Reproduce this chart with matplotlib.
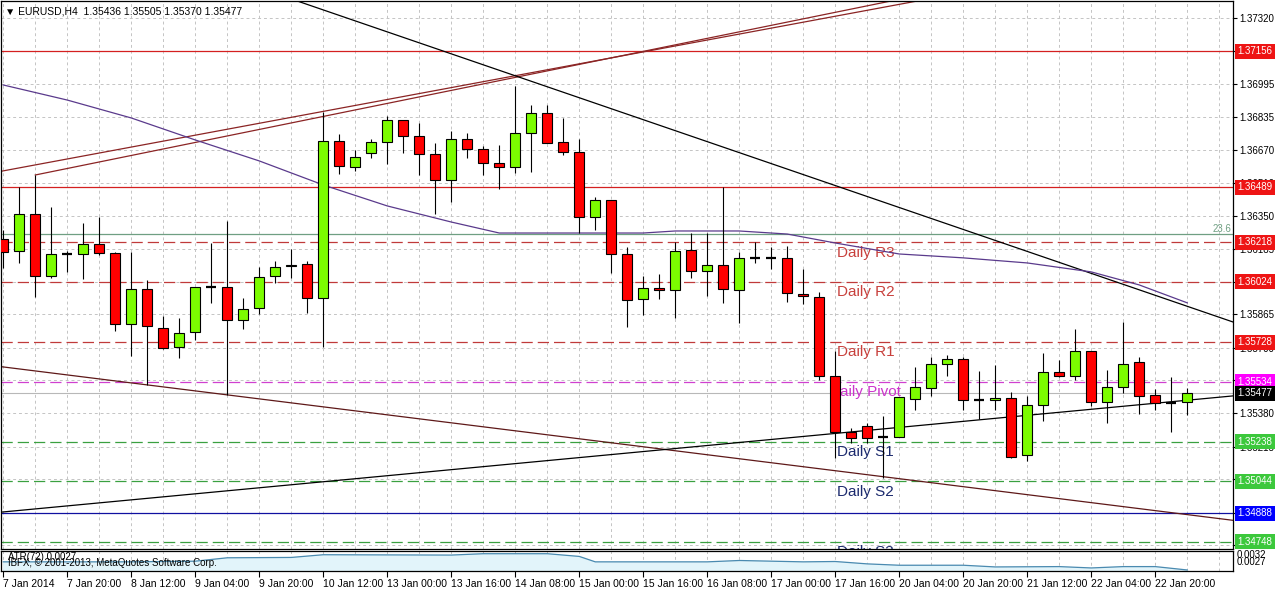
"""EURUSD H4 candlestick chart with daily pivots, trendlines and ATR panel (MT4 style)."""

import matplotlib

matplotlib.use("Agg")
import matplotlib.pyplot as plt
import numpy as np
from matplotlib.transforms import blended_transform_factory

W, H = 1276, 589
plt.rcParams["font.family"] = ["Liberation Sans", "DejaVu Sans"]

# --- price data (H4 bars, 7 Jan 2014 .. 22 Jan 2014) ---
opens = [1.36235, 1.36176, 1.36356, 1.36052, 1.36163, 1.36160, 1.36210, 1.36165, 1.35816, 1.35988,
         1.35796, 1.35703, 1.35777, 1.35998, 1.36001, 1.35836, 1.35895, 1.36052, 1.36101, 1.36111,
         1.35944, 1.36716, 1.36590, 1.36656, 1.36710, 1.36818, 1.36739, 1.36651, 1.36525, 1.36724,
         1.36675, 1.36607, 1.36587, 1.36754, 1.36852, 1.36710, 1.36661, 1.36341, 1.36425, 1.36160,
         1.35939, 1.35993, 1.35983, 1.36179, 1.36076, 1.36106, 1.35983, 1.36143, 1.36143, 1.36140,
         1.35965, 1.35949, 1.35562, 1.35289, 1.35317, 1.35264, 1.35261, 1.35451, 1.35505, 1.35620,
         1.35644, 1.35444, 1.35442, 1.35453, 1.35173, 1.35418, 1.35582, 1.35561, 1.35684, 1.35433,
         1.35507, 1.35629, 1.35467, 1.35431, 1.35436]
highs = [1.36279, 1.36492, 1.36549, 1.36391, 1.36176, 1.36315, 1.36341, 1.36170, 1.36173, 1.36034,
         1.35857, 1.35847, 1.36000, 1.36214, 1.36325, 1.35944, 1.36099, 1.36128, 1.36186, 1.36128,
         1.36860, 1.36750, 1.36672, 1.36726, 1.36839, 1.36821, 1.36806, 1.36706, 1.36767, 1.36754,
         1.36692, 1.36695, 1.36986, 1.36894, 1.36891, 1.36830, 1.36726, 1.36440, 1.36427, 1.36193,
         1.36053, 1.36063, 1.36220, 1.36266, 1.36266, 1.36489, 1.36171, 1.36220, 1.36194, 1.36201,
         1.36086, 1.35975, 1.35686, 1.35305, 1.35333, 1.35366, 1.35459, 1.35605, 1.35654, 1.35665,
         1.35654, 1.35588, 1.35616, 1.35485, 1.35464, 1.35674, 1.35641, 1.35792, 1.35686, 1.35592,
         1.35829, 1.35654, 1.35497, 1.35556, 1.35505]
lows = [1.36093, 1.36116, 1.35952, 1.36042, 1.36074, 1.36037, 1.36155, 1.35785, 1.35662, 1.35518,
        1.35693, 1.35652, 1.35739, 1.35919, 1.35469, 1.35792, 1.35865, 1.36017, 1.36042, 1.35873,
        1.35706, 1.36553, 1.36570, 1.36634, 1.36603, 1.36656, 1.36551, 1.36358, 1.36417, 1.36634,
        1.36551, 1.36479, 1.36558, 1.36565, 1.36705, 1.36647, 1.36263, 1.36279, 1.36068, 1.35801,
        1.35863, 1.35939, 1.35846, 1.36045, 1.35957, 1.35919, 1.35821, 1.36116, 1.36086, 1.35924,
        1.35914, 1.35543, 1.35158, 1.35235, 1.35235, 1.35060, 1.35261, 1.35395, 1.35464, 1.35562,
        1.35395, 1.35351, 1.35395, 1.35158, 1.35145, 1.35343, 1.35556, 1.35543, 1.35415, 1.35333,
        1.35480, 1.35376, 1.35395, 1.35289, 1.35370]
closes = [1.36171, 1.36356, 1.36052, 1.36160, 1.36163, 1.36210, 1.36165, 1.35816, 1.35988, 1.35806,
          1.35701, 1.35775, 1.35998, 1.35998, 1.35836, 1.35890, 1.36050, 1.36099, 1.36109, 1.35944,
          1.36716, 1.36595, 1.36636, 1.36710, 1.36818, 1.36739, 1.36651, 1.36525, 1.36724, 1.36675,
          1.36607, 1.36587, 1.36754, 1.36852, 1.36708, 1.36661, 1.36341, 1.36425, 1.36160, 1.35935,
          1.35993, 1.35983, 1.36175, 1.36076, 1.36106, 1.35988, 1.36140, 1.36143, 1.36143, 1.35968,
          1.35955, 1.35562, 1.35289, 1.35256, 1.35256, 1.35264, 1.35458, 1.35507, 1.35621, 1.35644,
          1.35444, 1.35444, 1.35454, 1.35163, 1.35418, 1.35582, 1.35561, 1.35684, 1.35433, 1.35507,
          1.35620, 1.35464, 1.35428, 1.35431, 1.35477]

time_labels = ["7 Jan 2014", "7 Jan 20:00", "8 Jan 12:00", "9 Jan 04:00", "9 Jan 20:00",
               "10 Jan 12:00", "13 Jan 00:00", "13 Jan 16:00", "14 Jan 08:00", "15 Jan 00:00",
               "15 Jan 16:00", "16 Jan 08:00", "17 Jan 00:00", "17 Jan 16:00", "20 Jan 04:00",
               "20 Jan 20:00", "21 Jan 12:00", "22 Jan 04:00", "22 Jan 20:00"]
price_ticks = [1.37320, 1.37158, 1.36995, 1.36835, 1.36670, 1.36510, 1.36350, 1.36185, 1.36025,
               1.35865, 1.35700, 1.35540, 1.35380, 1.35215, 1.35055, 1.34890, 1.34730]

# moving average (read at selected bars)
ma_bar = [0, 4, 8, 12, 16, 20, 24, 28, 31, 36, 40, 42, 46, 49, 52, 56, 60, 64, 68, 71, 74]
ma_val = [1.36991, 1.36917, 1.36829, 1.36721, 1.36618, 1.36500, 1.36397, 1.36318, 1.36264,
          1.36264, 1.36264, 1.36274, 1.36274, 1.36259, 1.36215, 1.36161, 1.36142, 1.36117,
          1.36073, 1.36009, 1.35921]

# ATR(72) (read at selected bars)
atr_bar = [0, 8, 12, 14, 18, 20, 28, 30, 34, 36, 37, 44, 46, 50, 52, 54, 56, 60, 62, 66, 68, 70, 72, 74]
atr_val = [0.00294, 0.00294, 0.00296, 0.00306, 0.00307, 0.00315, 0.00314, 0.00318, 0.00318,
           0.00310, 0.00294, 0.00294, 0.00298, 0.00294, 0.00295, 0.00288, 0.00284, 0.00284,
           0.00279, 0.00280, 0.00276, 0.00280, 0.00280, 0.00270]

# horizontal levels
sr_levels = [1.37156, 1.36489]
pivot_names = ["Daily R3", "Daily R2", "Daily R1", "Daily Pivot", "Daily S1", "Daily S2", "Daily S3"]
pivot_levels = [1.36218, 1.36024, 1.35728, 1.35534, 1.35238, 1.35044, 1.34748]
blue_level = 1.34888
fibo_level = 1.36258
bid = 1.35477

# trendlines: (bar, price) anchor pairs
tl_double_a = [(-0.02, 1.36569), (31.48, 1.37029)]
tl_double_b = [(2.0, 1.36549), (31.48, 1.37020)]
tl_black_down = [(18.54, 1.37399), (76.86, 1.35827)]
tl_brown_down = [(9.0, 1.35518), (14.0, 1.35469)]
tl_black_up = [(-0.02, 1.34894), (76.86, 1.35464)]

o = np.array(opens)
h = np.array(highs)
l = np.array(lows)
c = np.array(closes)
x = np.arange(len(o))

fig = plt.figure(figsize=(W / 100, H / 100), dpi=100)
ax = fig.add_axes([1 / W, 1 - 549 / H, 1232 / W, 548 / H])
axi = fig.add_axes([1 / W, 1 - 571 / H, 1232 / W, 20 / H])

xlim = (-0.144, 76.86)
ax.set_xlim(*xlim)
ax.set_ylim(1.347121, 1.374035)

grid_kw = dict(color="#c4c4c4", lw=0.7, dashes=(3, 3), zorder=0.5)
for p in price_ticks:
    ax.axhline(p, **grid_kw)
for gx in range(0, 78, 2):
    ax.axvline(gx, **grid_kw)
    axi.axvline(gx, **grid_kw)

# level lines
for p in sr_levels:
    ax.axhline(p, color="#d42020", lw=0.9, zorder=1)
ax.axhline(blue_level, color="#1010a0", lw=0.9, zorder=1)
ax.axhline(fibo_level, color="#6f9f82", lw=0.9, zorder=1)
ax.axhline(bid, color="#b8b8b8", lw=0.8, zorder=1)
pivot_line_colors = ["#c03a3a"] * 3 + ["#d040d0"] + ["#3aa040"] * 3
pivot_text_colors = ["#c8403c"] * 3 + ["#cc33cc"] + ["#1c2a6e"] * 3
for name, p, lc, tc in zip(pivot_names, pivot_levels, pivot_line_colors, pivot_text_colors):
    ax.axhline(p, color=lc, lw=0.9, dashes=(9, 4), zorder=1)
    tx = 51.6 if name == "Daily Pivot" else 52.1
    ax.annotate(name, xy=(tx, p), xytext=(0, -7.3), textcoords="offset points",
                ha="left", va="center", fontsize=11, color=tc, zorder=2, annotation_clip=False,
                clip_on=True)

trans_r = blended_transform_factory(ax.transAxes, ax.transData)
ax.text(0.9985, fibo_level, "23.6", transform=trans_r, ha="right", va="bottom",
        fontsize=7, color="#6f9f82", zorder=2)

# trendlines
ax.axline(*tl_double_a, color="#8b2424", lw=0.9, zorder=2)
(bx0, by0), (bx1, by1) = tl_double_b
slope_b = (by1 - by0) / (bx1 - bx0)
ax.plot([bx0, xlim[1]], [by0, by0 + slope_b * (xlim[1] - bx0)], color="#8b2424", lw=0.9, zorder=2)
ax.axline(*tl_black_down, color="black", lw=0.9, zorder=2)
ax.axline(*tl_brown_down, color="#5e1818", lw=0.9, zorder=2)
ax.axline(*tl_black_up, color="black", lw=0.9, zorder=2)
ax.plot(ma_bar, ma_val, color="#5a3a8c", lw=0.9, zorder=2)

# candles
up = c > o + 1e-6
dn = c < o - 1e-6
dj = ~(up | dn)
ax.vlines(x, l, h, colors="black", lw=0.8, zorder=5)
ax.bar(x[up], (c - o)[up], bottom=o[up], width=0.62, color="#7cfc00",
       edgecolor="black", linewidth=0.8, zorder=6)
ax.bar(x[dn], (o - c)[dn], bottom=c[dn], width=0.62, color="#ff0000",
       edgecolor="black", linewidth=0.8, zorder=6)
ax.hlines(o[dj], x[dj] - 0.31, x[dj] + 0.31, colors="black", lw=1.6, zorder=6)

# right price axis
ax.yaxis.tick_right()
ax.set_yticks(price_ticks)
ax.set_yticklabels([f"{p:.5f}" for p in price_ticks])
ax.tick_params(axis="y", length=3, width=0.8, pad=1.5, labelsize=7, colors="black")
ax.set_xticks([])

box_prices = [1.37156, 1.36489, 1.36218, 1.36024, 1.35728, 1.35534, 1.35477,
              1.35238, 1.35044, 1.34888, 1.34748]
box_colors = ["#ee1414"] * 5 + ["#ff00ff", "#000000", "#3cc83c", "#3cc83c", "#0000ff", "#3cc83c"]
for p, bc in zip(box_prices, box_colors):
    ax.text(1.0035, p, f"{p:.5f}", transform=trans_r, ha="left", va="center", fontsize=7,
            color="white", zorder=20, clip_on=False,
            bbox=dict(boxstyle="square,pad=0.25", facecolor=bc, edgecolor="none"))

for a in (ax, axi):
    for s in a.spines.values():
        s.set_linewidth(0.9)
        s.set_color("black")

# ATR panel
axi.set_xlim(*xlim)
axi.set_ylim(0.00267, 0.00326)
axi.fill_between(atr_bar, atr_val, 0.00267, color="#e2f4fa", zorder=1)
axi.plot(atr_bar, atr_val, color="#4a8ab0", lw=0.9, zorder=2)
axi.set_yticks([])
tick_bars = list(range(0, 4 * len(time_labels), 4))
axi.set_xticks(tick_bars)
axi.set_xticklabels(time_labels, ha="left")
axi.tick_params(axis="x", length=4, width=0.8, pad=2, labelsize=7.5)
axi.text(7 / 1232, 0.68, "ATR(72) 0.0027", transform=axi.transAxes, fontsize=7,
         va="center", ha="left", zorder=3)
axi.text(7 / 1232, 0.38, "IBFX, \u00a9 2001-2013, MetaQuotes Software Corp.",
         transform=axi.transAxes, fontsize=7, va="center", ha="left", zorder=3)
fig.text(1237 / W, 1 - 555 / H, "0.0032", fontsize=7, va="center", ha="left")
fig.text(1237 / W, 1 - 562 / H, "0.0027", fontsize=7, va="center", ha="left")

fig.text(5 / W, 1 - 11 / H, "\u25bc EURUSD,H4  1.35436 1.35505 1.35370 1.35477",
         fontsize=7.5, va="center", ha="left")

fig.savefig("out.png", dpi=100)
